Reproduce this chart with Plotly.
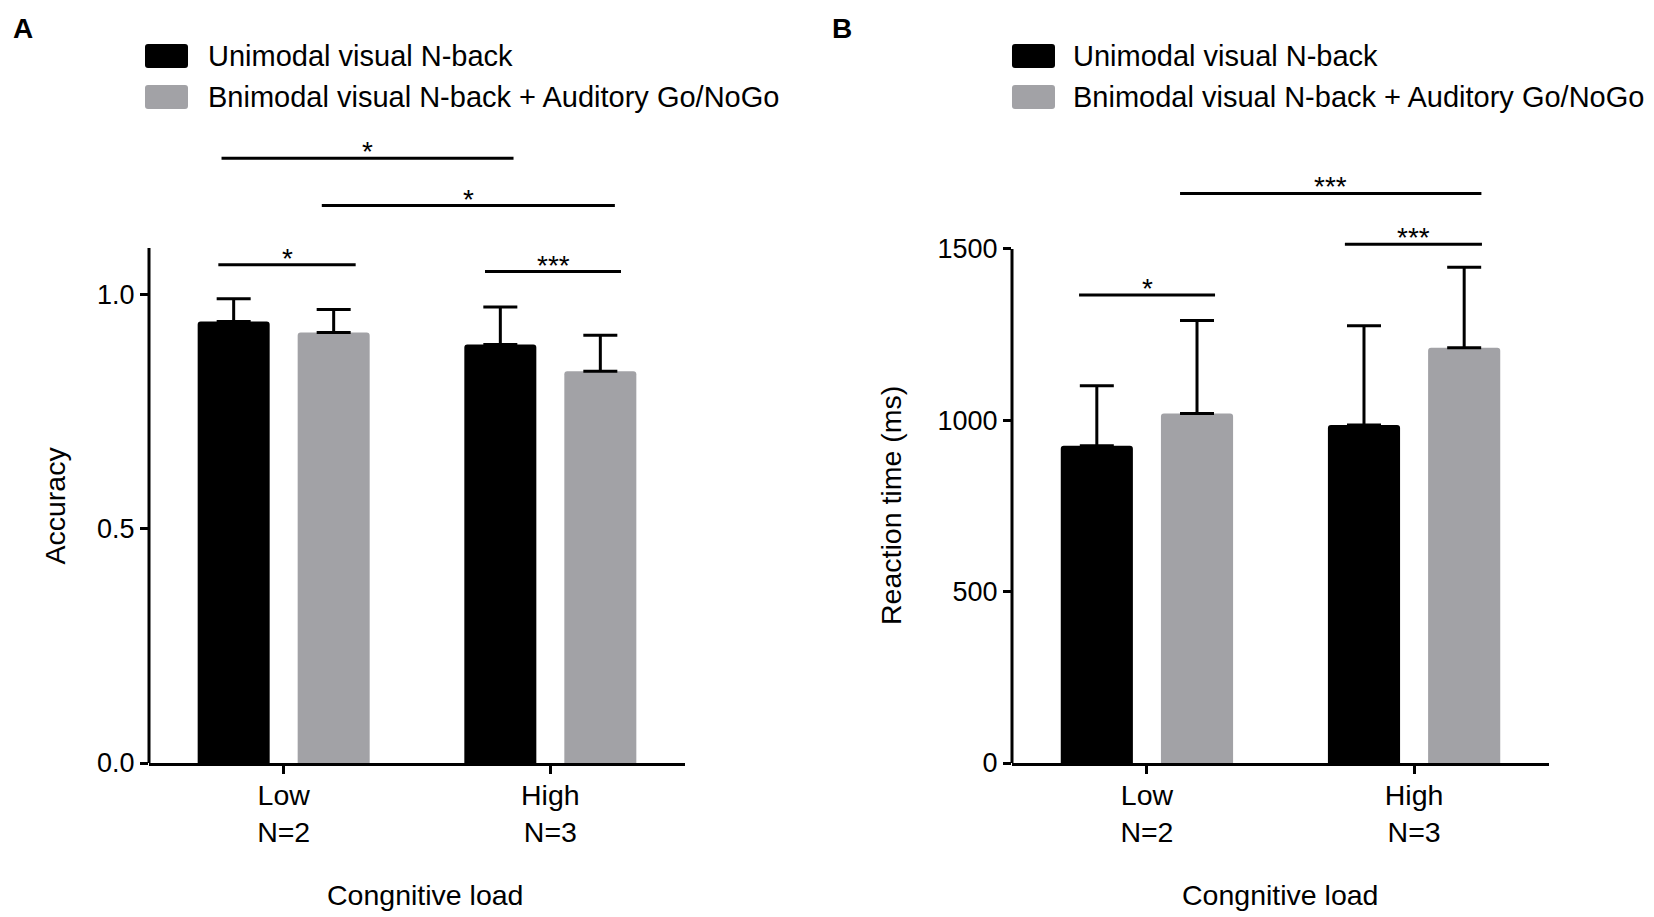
import plotly.graph_objects as go

# ---------------- data ----------------
categories = ["Low<br>N=2", "High<br>N=3"]
series_names = ["Unimodal visual N-back", "Bnimodal visual N-back + Auditory Go/NoGo"]

acc_unimodal = [0.943, 0.894]
acc_unimodal_err = [0.049, 0.080]
acc_bimodal = [0.920, 0.837]
acc_bimodal_err = [0.049, 0.077]

rt_unimodal = [926, 986]
rt_unimodal_err = [175, 290]
rt_bimodal = [1020, 1212]
rt_bimodal_err = [271, 235]

acc_ticks = [0, 0.5, 1.0]
rt_ticks = [0, 500, 1000, 1500]
acc_axis_top = 1.1

# significance brackets: (start, end, level, label) in category-index / value units
acc_sig = [(-0.245, 0.27, 1.0646, "*"), (0.755, 1.265, 1.050, "***"),
           (-0.233, 0.862, 1.292, "*"), (0.143, 1.242, 1.191, "*")]
rt_sig = [(-0.254, 0.255, 1366, "*"), (0.741, 1.254, 1514, "***"),
          (0.124, 1.252, 1662, "***")]

# ---------------- style ----------------
BLACK = "#000000"
GREY = "#a2a2a6"
FONT = "Liberation Sans, Arial, sans-serif"
W, H = 1654, 917
xpos = list(range(len(categories)))

A_dom = [141 / W, 677 / W]
B_dom = [1004 / W, 1541 / W]
y_dom = [1 - 755 / H, 1 - 132 / H]
acc_range = [0, 1.331]
rt_range = [0, 1818]


def err(arr):
    return dict(type="data", symmetric=False, array=arr, arrayminus=[0] * len(arr),
                color=BLACK, thickness=3, width=17)


def bar(y, e, name, col, xa, ya):
    return go.Bar(x=xpos, y=y, error_y=err(e), name=name,
                  marker=dict(color=col, line=dict(width=0), cornerradius=3),
                  xaxis=xa, yaxis=ya, showlegend=False)


fig = go.Figure()
fig.add_trace(bar(acc_unimodal, acc_unimodal_err, series_names[0], BLACK, "x", "y"))
fig.add_trace(bar(acc_bimodal, acc_bimodal_err, series_names[1], GREY, "x", "y"))
fig.add_trace(bar(rt_unimodal, rt_unimodal_err, series_names[0], BLACK, "x2", "y2"))
fig.add_trace(bar(rt_bimodal, rt_bimodal_err, series_names[1], GREY, "x2", "y2"))

xcommon = dict(range=[-0.505, 1.505], tickvals=xpos, ticktext=categories, showline=True, linewidth=3,
               linecolor=BLACK, ticks="outside", ticklen=8, tickwidth=3, tickcolor=BLACK,
               ticklabelstandoff=-3,
               tickfont=dict(size=28.5, color=BLACK), showgrid=False, zeroline=False, automargin=False)
ycommon = dict(showline=False, ticks="outside", ticklen=8, tickwidth=3, tickcolor=BLACK,
               tickfont=dict(size=27, color=BLACK), showgrid=False, zeroline=False, automargin=False)

fig.update_layout(
    width=W, height=H, margin=dict(l=0, r=0, t=0, b=0),
    paper_bgcolor="white", plot_bgcolor="white",
    font=dict(family=FONT, color=BLACK),
    barmode="group", bargap=0.25, bargroupgap=0.28,
    xaxis=dict(domain=A_dom, anchor="y", **xcommon),
    yaxis=dict(domain=y_dom, anchor="x", range=acc_range, tickvals=acc_ticks, tickformat=".1f", **ycommon),
    xaxis2=dict(domain=B_dom, anchor="y2", **xcommon),
    yaxis2=dict(domain=y_dom, anchor="x2", range=rt_range, tickvals=rt_ticks, **ycommon),
)

shapes = []
annots = []
# y-axis lines (stop at 1.1 and 1500)
shapes.append(dict(type="line", xref="paper", yref="y", x0=A_dom[0], x1=A_dom[0], y0=0, y1=acc_axis_top,
                   line=dict(color=BLACK, width=3)))
shapes.append(dict(type="line", xref="paper", yref="y2", x0=B_dom[0], x1=B_dom[0], y0=0, y1=rt_ticks[-1],
                   line=dict(color=BLACK, width=3)))

for xr, yr, sig in (("x", "y", acc_sig), ("x2", "y2", rt_sig)):
    for x0, x1, yv, lab in sig:
        shapes.append(dict(type="line", xref=xr, yref=yr, x0=x0, x1=x1, y0=yv, y1=yv,
                           line=dict(color=BLACK, width=3)))
        annots.append(dict(xref=xr, yref=yr, x=(x0 + x1) / 2, y=yv, text=lab, showarrow=False,
                           xanchor="center", yanchor="bottom", yshift=-11,
                           font=dict(size=28, color=BLACK, family=FONT)))

# axis titles
title_font = dict(size=28.5, color=BLACK, family=FONT)
annots.append(dict(xref="paper", yref="y", x=47 / W, y=acc_axis_top / 2, text="Accuracy", textangle=-90,
                   showarrow=False, xanchor="center", yanchor="middle", font=title_font))
annots.append(dict(xref="paper", yref="y2", x=883 / W, y=rt_ticks[-1] / 2, text="Reaction time (ms)",
                   textangle=-90, showarrow=False, xanchor="center", yanchor="middle", font=title_font))
for px in (417, 1272):
    annots.append(dict(xref="paper", yref="paper", x=px / W, y=1 - 886.5 / H, text="Congnitive load",
                       showarrow=False, xanchor="center", yanchor="middle", font=title_font))


def rounded_rect(x0, y0, x1, y1, r):
    # pixel coords (top-left origin) -> paper-coord SVG path
    def P(x, y):
        return "%.5f,%.5f" % (x / W, 1 - y / H)
    return ("M" + P(x0 + r, y0) + " L" + P(x1 - r, y0) + " Q" + P(x1, y0) + " " + P(x1, y0 + r) +
            " L" + P(x1, y1 - r) + " Q" + P(x1, y1) + " " + P(x1 - r, y1) +
            " L" + P(x0 + r, y1) + " Q" + P(x0, y1) + " " + P(x0, y1 - r) +
            " L" + P(x0, y0 + r) + " Q" + P(x0, y0) + " " + P(x0 + r, y0) + " Z")


# legends
for sq_x0, txt_x in ((137, 198), (1004, 1063)):
    for i, (col, nm) in enumerate(((BLACK, series_names[0]), (GREY, series_names[1]))):
        cy = 48 + 41 * i
        shapes.append(dict(type="path", xref="paper", yref="paper",
                           path=rounded_rect(sq_x0, cy - 12, sq_x0 + 43, cy + 12, 3),
                           fillcolor=col, line=dict(width=0)))
        annots.append(dict(xref="paper", yref="paper", x=txt_x / W, y=1 - cy / H, text=nm, showarrow=False,
                           xanchor="left", yanchor="middle", font=dict(size=29, color=BLACK, family=FONT)))

# panel labels
for lab, px in (("A", 15), ("B", 834)):
    annots.append(dict(xref="paper", yref="paper", x=px / W, y=1 - 20.5 / H, text="<b>%s</b>" % lab,
                       showarrow=False, xanchor="center", yanchor="middle",
                       font=dict(size=28, color=BLACK, family=FONT)))

fig.update_layout(shapes=shapes, annotations=annots)
fig.write_html("out.html")
